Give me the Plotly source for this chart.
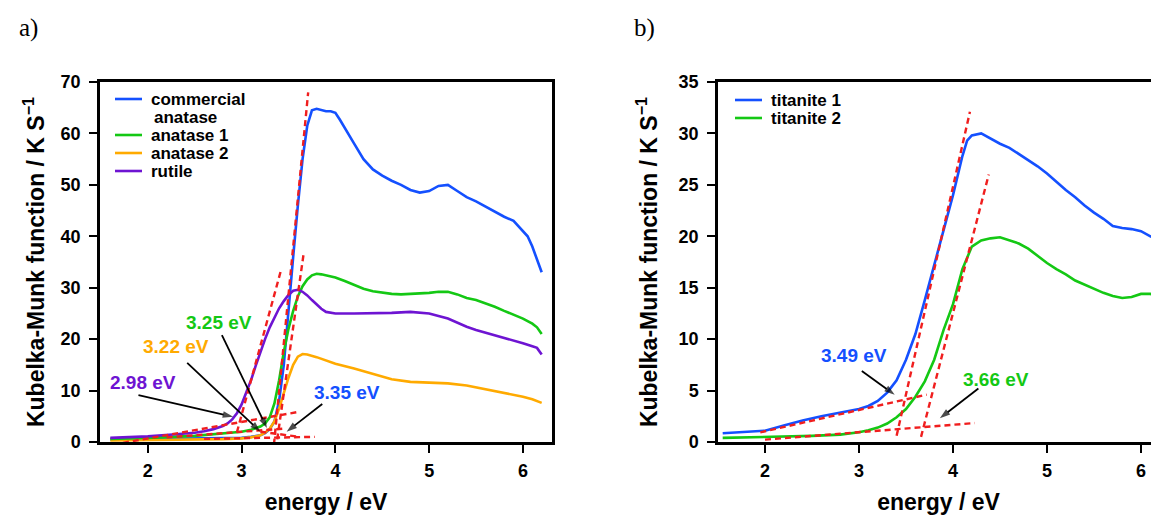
import plotly.graph_objects as go

W, H = 1159, 522          # target picture size
OFF = 8                   # page body margin of the browser
FW, FH = W - OFF, H - OFF # figure size so the picture is filled exactly
FONT = "Liberation Sans, Arial, Helvetica, sans-serif"

BLUE = "rgb(20,80,255)"
GREEN = "rgb(20,200,20)"
ORANGE = "rgb(255,170,0)"
PURPLE = "rgb(110,20,210)"
RED = "rgb(240,30,30)"

X_TITLE = "energy / eV"
Y_TITLE = "Kubelka-Munk function / K S<sup>−1</sup>"

# ---------------- panel a data ----------------
comm_x = [1.6, 2.0, 2.5, 2.8, 3.0, 3.1, 3.2, 3.25, 3.3, 3.35, 3.4, 3.45, 3.5, 3.55, 3.6, 3.65, 3.7, 3.75,
          3.8, 3.85, 3.9, 3.95, 4.0, 4.05, 4.1, 4.15, 4.2, 4.3, 4.4, 4.5, 4.6, 4.7, 4.8, 4.9, 5.0, 5.1,
          5.2, 5.3, 5.4, 5.5, 5.6, 5.7, 5.8, 5.9, 6.0, 6.05, 6.1, 6.15, 6.2]
comm_y = [0.5, 0.55, 0.6, 0.7, 0.8, 1.0, 1.3, 1.7, 2.5, 4.0, 8.0, 15.0, 26.0, 36.0, 46.0, 55.0, 61.5, 64.5,
          64.8, 64.6, 64.3, 64.3, 64.0, 62.6, 61.0, 59.5, 58.0, 55.0, 53.0, 51.8, 50.8, 50.0, 49.0, 48.5, 48.8, 49.8,
          50.0, 48.8, 47.6, 46.8, 45.8, 44.8, 43.8, 43.0, 41.0, 40.0, 38.0, 35.5, 33.0]

ana1_x = [1.6, 2.0, 2.5, 2.8, 3.0, 3.1, 3.2, 3.25, 3.3, 3.35, 3.4, 3.45, 3.5, 3.55, 3.6, 3.65, 3.7, 3.75,
          3.8, 3.85, 3.9, 4.0, 4.1, 4.2, 4.3, 4.4, 4.5, 4.6, 4.7, 4.8, 4.9, 5.0, 5.1, 5.2, 5.3, 5.4, 5.5,
          5.6, 5.7, 5.8, 5.9, 6.0, 6.1, 6.15, 6.2]
ana1_y = [0.6, 0.8, 1.2, 1.6, 2.0, 2.4, 3.0, 3.6, 4.8, 7.5, 12.0, 17.5, 22.0, 25.5, 28.3, 30.3, 31.6, 32.4,
          32.7, 32.6, 32.4, 32.0, 31.3, 30.5, 29.8, 29.3, 29.0, 28.8, 28.7, 28.8, 28.8, 29.0, 29.2, 29.2, 28.7, 28.0, 27.6,
          27.0, 26.3, 25.5, 24.8, 24.0, 23.0, 22.3, 21.0]

ana2_x = [1.6, 2.0, 2.5, 2.8, 3.0, 3.1, 3.2, 3.25, 3.3, 3.35, 3.4, 3.45, 3.5, 3.55, 3.6, 3.65, 3.7, 3.8,
          3.9, 4.0, 4.2, 4.4, 4.6, 4.8, 5.0, 5.2, 5.4, 5.6, 5.8, 6.0, 6.1, 6.2]
ana2_y = [0.3, 0.35, 0.45, 0.55, 0.7, 0.9, 1.3, 1.8, 2.6, 4.0, 6.5, 9.5, 12.5, 15.0, 16.6, 17.1, 17.0, 16.5,
          15.8, 15.2, 14.3, 13.2, 12.2, 11.7, 11.5, 11.4, 11.0, 10.3, 9.6, 8.8, 8.3, 7.6]

rut_x = [1.6, 2.0, 2.3, 2.5, 2.6, 2.7, 2.8, 2.85, 2.9, 2.95, 3.0, 3.05, 3.1, 3.15, 3.2, 3.25, 3.3, 3.35,
         3.4, 3.45, 3.5, 3.55, 3.6, 3.65, 3.7, 3.75, 3.8, 3.85, 3.9, 4.0, 4.2, 4.4, 4.6, 4.8, 5.0, 5.2,
         5.3, 5.4, 5.5, 5.6, 5.7, 5.8, 5.9, 6.0, 6.1, 6.15, 6.2]
rut_y = [0.8, 1.1, 1.5, 1.8, 2.1, 2.5, 3.1, 3.6, 4.4, 5.6, 7.3, 9.5, 12.0, 14.8, 17.5, 20.0, 22.3, 24.3,
         26.0, 27.4, 28.6, 29.4, 29.6, 29.2, 28.5, 27.6, 26.7, 25.9, 25.3, 25.0, 25.0, 25.0, 25.1, 25.3, 25.0, 24.0,
         23.2, 22.4, 21.8, 21.3, 20.8, 20.3, 19.8, 19.2, 18.6, 18.3, 17.0]

# band-gap construction lines (panel a): start/end points
fit_a = [
    ([1.63, 3.59], [-0.5, 5.8]),    # rutile baseline
    ([2.95, 3.42], [1.9, 33.4]),    # rutile tangent
    ([3.345, 3.71], [-0.5, 68.0]),  # commercial anatase tangent
    ([3.38, 3.66], [0.5, 36.4]),    # anatase tangent
    ([2.2, 3.45], [0.9, 2.6]),      # anatase 1 baseline
    ([2.6, 3.78], [0.6, 1.0]),      # anatase 2 / commercial baseline
    ([3.2, 3.62], [2.0, 1.0]),
]

# ---------------- panel b data ----------------
tit1_x = [1.55, 2.0, 2.2, 2.4, 2.6, 2.8, 3.0, 3.1, 3.2, 3.3, 3.4, 3.5, 3.6, 3.7, 3.8, 3.9, 4.0, 4.1, 4.15,
          4.2, 4.3, 4.4, 4.5, 4.6, 4.7, 4.8, 4.9, 5.0, 5.1, 5.2, 5.3, 5.4, 5.5, 5.6, 5.7, 5.8, 5.9, 6.0,
          6.1, 6.15, 6.2]
tit1_y = [0.85, 1.1, 1.6, 2.1, 2.5, 2.85, 3.2, 3.5, 4.0, 4.8, 6.0, 8.0, 10.5, 13.8, 17.3, 20.6, 24.0, 27.8, 29.3,
          29.8, 30.0, 29.5, 29.0, 28.6, 28.0, 27.4, 26.8, 26.1, 25.3, 24.5, 23.8, 23.0, 22.3, 21.7, 21.0, 20.8, 20.7, 20.5,
          20.0, 19.8, 18.7]

tit2_x = [1.55, 2.0, 2.5, 2.8, 3.0, 3.1, 3.2, 3.3, 3.4, 3.5, 3.6, 3.7, 3.8, 3.9, 4.0, 4.1, 4.2, 4.3, 4.4,
          4.5, 4.6, 4.7, 4.8, 4.9, 5.0, 5.1, 5.2, 5.3, 5.4, 5.5, 5.6, 5.7, 5.8, 5.9, 6.0, 6.1, 6.2]
tit2_y = [0.4, 0.48, 0.6, 0.72, 0.95, 1.15, 1.4, 1.8, 2.4, 3.2, 4.4, 5.9, 8.0, 10.9, 13.4, 16.8, 19.0, 19.6, 19.8,
          19.9, 19.6, 19.3, 18.8, 18.1, 17.4, 16.8, 16.3, 15.7, 15.3, 14.9, 14.5, 14.2, 14.0, 14.1, 14.4, 14.4, 14.1]

fit_b = [
    ([1.95, 3.72], [0.94, 4.6]),   # titanite 1 baseline
    ([3.40, 4.18], [0.6, 32.1]),   # titanite 1 tangent
    ([2.0, 4.23], [0.23, 1.84]),   # titanite 2 baseline
    ([3.66, 4.38], [0.5, 26.0]),   # titanite 2 tangent
]

# band-gap labels: (text, colour, label x, label y, arrow tail x, tail y, tip x, tip y)
gaps_a = [
    ("2.98 eV", PURPLE, 1.95, 11.5, 1.9, 9.1, 2.91, 4.9),
    ("3.22 eV", ORANGE, 2.30, 18.6, 2.42, 15.4, 3.20, 2.0),
    ("3.25 eV", GREEN, 2.76, 23.2, 2.79, 20.8, 3.27, 2.7),
    ("3.35 eV", BLUE, 4.12, 9.7, 3.86, 7.4, 3.48, 2.0),
]
gaps_b = [
    ("3.49 eV", BLUE, 2.95, 8.4, 3.03, 6.9, 3.38, 4.6),
    ("3.66 eV", GREEN, 4.46, 6.1, 4.27, 5.2, 3.86, 2.3),
]

fig = go.Figure()

def line(x, y, color, xa, ya):
    fig.add_trace(go.Scatter(x=x, y=y, mode="lines", line=dict(color=color, width=2.6),
                             xaxis=xa, yaxis=ya, showlegend=False, hoverinfo="skip"))

def dashed(x, y, xa, ya):
    fig.add_trace(go.Scatter(x=x, y=y, mode="lines", line=dict(color=RED, width=2.4, dash="6px,4px"),
                             xaxis=xa, yaxis=ya, showlegend=False, hoverinfo="skip"))

def arrow(tx, ty, hx, hy, xa, ya):
    fig.add_trace(go.Scatter(x=[tx, hx], y=[ty, hy], mode="lines+markers",
                             line=dict(color="black", width=1.8),
                             marker=dict(symbol=["circle", "arrow"], size=[0, 11], color="black",
                                         angleref="previous", line=dict(width=0)),
                             xaxis=xa, yaxis=ya, showlegend=False, hoverinfo="skip", cliponaxis=False))

line(comm_x, comm_y, BLUE, "x", "y")
line(ana2_x, ana2_y, ORANGE, "x", "y")
line(ana1_x, ana1_y, GREEN, "x", "y")
line(rut_x, rut_y, PURPLE, "x", "y")
for fx, fy in fit_a:
    dashed(fx, fy, "x", "y")

line(tit1_x, tit1_y, BLUE, "x2", "y2")
line(tit2_x, tit2_y, GREEN, "x2", "y2")
for fx, fy in fit_b:
    dashed(fx, fy, "x2", "y2")

ann = []
bold = lambda s, c="black": dict(family=FONT, size=s, color=c, weight="bold")

for gaps, xa, ya in ((gaps_a, "x", "y"), (gaps_b, "x2", "y2")):
    for txt, col, lx, ly, tx, ty, hx, hy in gaps:
        arrow(tx, ty, hx, hy, xa, ya)
        ann.append(dict(text=txt, x=lx, y=ly, xref=xa, yref=ya, showarrow=False,
                        xanchor="center", yanchor="middle", font=bold(19, col)))

def X(p):
    return (p - OFF) / FW

def Y(p):
    return 1 - (p - OFF) / FH

ax_common = dict(showline=True, linecolor="black", linewidth=2.5, ticks="outside", ticklen=8,
                 tickwidth=2, tickcolor="black", showgrid=False, zeroline=False, automargin=False,
                 tickfont=dict(family=FONT, size=18, color="black", weight="bold"))
xtitle = dict(text=X_TITLE, font=bold(23), standoff=14)

ydom = [Y(442), Y(82)]
fig.update_layout(
    width=FW, height=FH, margin=dict(l=0, r=0, t=0, b=0, pad=0, autoexpand=False),
    paper_bgcolor="white", plot_bgcolor="white", showlegend=False,
    xaxis=dict(domain=[X(100), X(552)], range=[1.49, 6.31], tickvals=[2, 3, 4, 5, 6],
               anchor="y", mirror=True, ticklabelstandoff=3, title=xtitle, **ax_common),
    yaxis=dict(domain=ydom, range=[0, 70], dtick=10, anchor="x", mirror=True, ticklabelstandoff=5,
               title=dict(text=Y_TITLE, font=bold(23), standoff=10), **ax_common),
    xaxis2=dict(domain=[X(718), 1.0], range=[1.5, 1.5 + 441 / 94], tickvals=[2, 3, 4, 5, 6],
                anchor="y2", mirror=True, ticklabelstandoff=3, title=xtitle, **ax_common),
    yaxis2=dict(domain=ydom, range=[0, 35], dtick=5, anchor="x2", mirror=False, ticklabelstandoff=5,
                title=dict(text=Y_TITLE, font=bold(23), standoff=15), **ax_common),
)

def paper_text(text, cx, cy, font, **kw):
    d = dict(text=text, x=X(cx), y=Y(cy), xref="paper", yref="paper", showarrow=False,
             xanchor="center", yanchor="middle", font=font)
    d.update(kw)
    ann.append(d)

serif = dict(family="Liberation Serif, Times New Roman, serif", size=25, color="black")
paper_text("a)", 28, 28, serif)
paper_text("b)", 644, 28, serif)

legend_a = [("commercial", BLUE, 99), ("anatase 1", GREEN, 135), ("anatase 2", ORANGE, 153),
            ("rutile", PURPLE, 171)]
shapes = []
for name, col, yy in legend_a:
    shapes.append(dict(type="line", xref="paper", yref="paper", x0=X(115), x1=X(142), y0=Y(yy), y1=Y(yy),
                       line=dict(color=col, width=2.6)))
    paper_text(name, 149, yy, bold(17), xanchor="left")
paper_text("anatase", 152, 117, bold(17), xanchor="left")

legend_b = [("titanite 1", BLUE, 100), ("titanite 2", GREEN, 118)]
for name, col, yy in legend_b:
    shapes.append(dict(type="line", xref="paper", yref="paper", x0=X(735), x1=X(762), y0=Y(yy), y1=Y(yy),
                       line=dict(color=col, width=2.6)))
    paper_text(name, 769, yy, bold(17), xanchor="left")

fig.update_layout(annotations=ann, shapes=shapes)
fig.write_html("out.html")
